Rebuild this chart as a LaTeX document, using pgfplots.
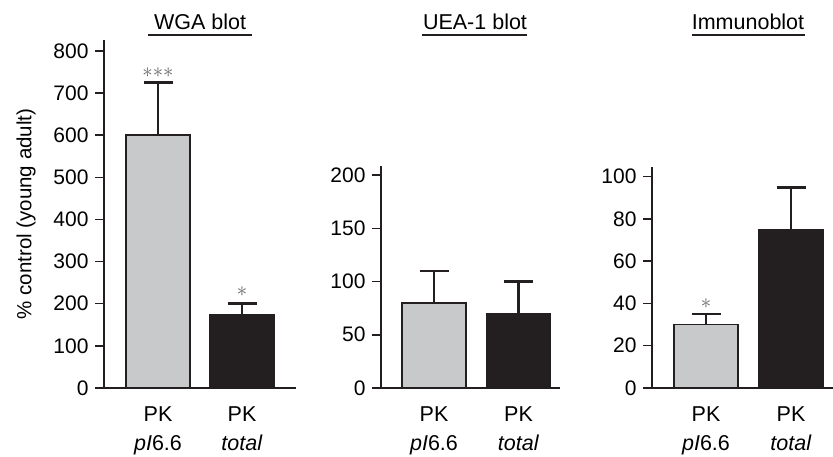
\documentclass[border=0pt]{standalone}
\usepackage{pgfplots}
\pgfplotsset{compat=1.18}
\usepackage{fontspec}
\setmainfont{Liberation Sans}
\definecolor{barlight}{RGB}{200,201,203}
\definecolor{bardark}{RGB}{35,31,32}
\definecolor{edge}{RGB}{35,31,32}
\definecolor{stargray}{RGB}{100,100,100}
\tikzset{starnode/.style={text=stargray, font=\fontsize{22}{22}\selectfont, inner sep=0pt}}
\pgfplotsset{
 panel/.style={
  scale only axis, clip=false,
  axis x line*=bottom, axis y line*=left,
  axis line style={edge, line width=1.3pt, -},
  ymin=0, xmin=0,
  tick align=outside,
  major tick length=9pt,
  ytick style={edge, line width=1.5pt},
  xtick style={draw=none},
  xticklabels={PK\\\textit{pI}6.6, PK\\\textit{total}},
  xticklabel style={align=center, font=\fontsize{21.5}{29}\selectfont, yshift=-6pt},
  yticklabel style={font=\fontsize{21}{22}\selectfont, xshift=-3pt},
  /pgf/number format/assume math mode=true,
  ybar, bar width=64pt, bar shift=0pt,
 },
 bl/.style={fill=barlight, draw=edge, line width=1.5pt,
  error bars/.cd, y dir=plus, y explicit,
  error bar style={line width=2.5pt, edge},
  error mark options={rotate=90, mark size=14.5pt, line width=2.5pt, edge}},
 bd/.style={fill=bardark, draw=edge, line width=1.5pt,
  error bars/.cd, y dir=plus, y explicit,
  error bar style={line width=2.5pt, edge},
  error mark options={rotate=90, mark size=14.5pt, line width=2.5pt, edge}},
}
\begin{document}
\begin{tikzpicture}
\useasboundingbox (0,0) rectangle (833pt,456pt);
% Panel 1: WGA blot
\begin{axis}[panel, at={(104pt,68pt)}, anchor=south west,
  width=192pt, height=348pt, xmax=192, ymax=826,
  ytick={0,100,...,800}, xtick={54,138},
  ylabel={\% control (young adult)},
  ylabel style={at={(axis description cs:-0.406,0.5)}, anchor=center, font=\fontsize{20.5}{21}\selectfont}]
\addplot[bl] coordinates {(54,600) +- (0,125)};
\addplot[bd] coordinates {(138,175) +- (0,25)};
\node[starnode] at (axis cs:54,748) {${\ast}{\ast}{\ast}$};
\node[starnode] at (axis cs:138,228) {$\ast$};
\end{axis}
% Panel 2: UEA-1 blot
\begin{axis}[panel, at={(381pt,68pt)}, anchor=south west,
  width=179pt, height=222pt, xmax=179, ymax=208.5,
  ytick={0,50,...,200}, xtick={53,137.5}]
\addplot[bl] coordinates {(53,80) +- (0,30)};
\addplot[bd] coordinates {(137.5,70) +- (0,30)};
\end{axis}
% Panel 3: Immunoblot
\begin{axis}[panel, at={(652pt,68pt)}, anchor=south west,
  width=181pt, height=221.2pt, xmax=181, ymax=104.7,
  ytick={0,20,...,100}, xtick={54,139}]
\addplot[bl] coordinates {(54,30) +- (0,5)};
\addplot[bd] coordinates {(139,75) +- (0,20)};
\node[starnode] at (axis cs:54,40) {$\ast$};
\end{axis}
% titles
\node[font=\fontsize{21.5}{22}\selectfont] at (200pt,434pt) {WGA blot};
\draw[edge, line width=2pt] (148pt,421pt) -- (252pt,421pt);
\node[font=\fontsize{21.5}{22}\selectfont] at (475pt,434pt) {UEA-1 blot};
\draw[edge, line width=2pt] (422pt,421pt) -- (527pt,421pt);
\node[font=\fontsize{21.5}{22}\selectfont] at (748pt,434pt) {Immunoblot};
\draw[edge, line width=2pt] (692pt,421pt) -- (805pt,421pt);
\end{tikzpicture}
\end{document}
